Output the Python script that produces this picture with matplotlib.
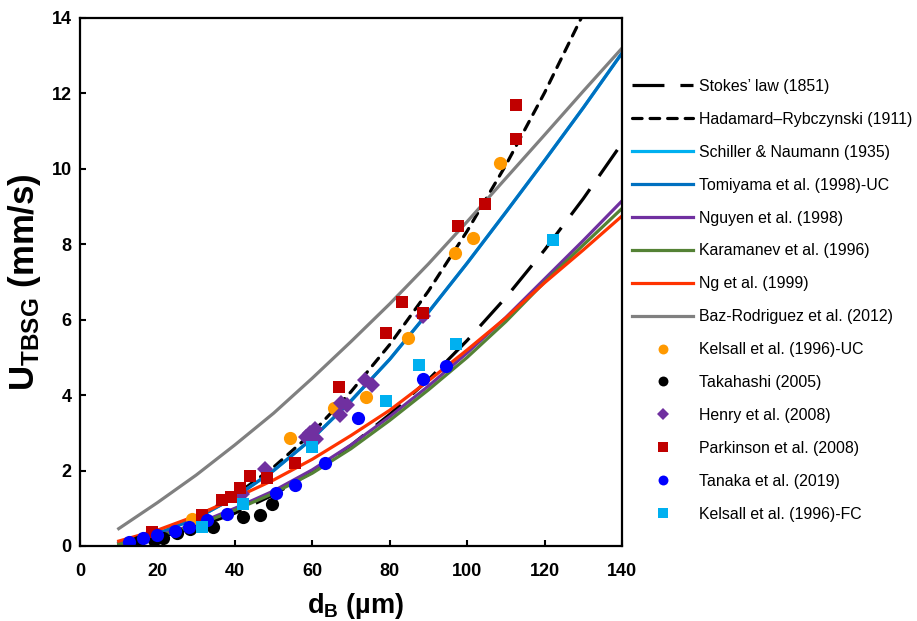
import matplotlib
matplotlib.use("Agg")
import matplotlib.pyplot as plt

plt.rcParams['font.family'] = ['Liberation Sans', 'DejaVu Sans']
plt.rcParams['mathtext.fontset'] = 'custom'
plt.rcParams['mathtext.rm'] = 'Liberation Sans:bold'
plt.rcParams['mathtext.it'] = 'Liberation Sans:bold'
plt.rcParams['mathtext.bf'] = 'Liberation Sans:bold'

# ---- model curves ----
d_line = [10, 20, 30, 40, 50, 60, 70, 80, 90, 100, 110, 120, 130, 140]
stokes = [0.055, 0.22, 0.49, 0.87, 1.36, 1.96, 2.67, 3.49, 4.41, 5.45, 6.59, 7.85, 9.21, 10.68]
hadamard = [0.08, 0.33, 0.75, 1.34, 2.09, 3.0, 4.09, 5.34, 6.76, 8.35, 10.1, 12.02, 14.11, 16.37]
schiller = [0.08, 0.33, 0.73, 1.29, 2.0, 2.85, 3.85, 4.95, 6.2, 7.5, 8.85, 10.22, 11.62, 13.07]
tomiyama = [0.08, 0.33, 0.73, 1.29, 2.0, 2.85, 3.85, 4.95, 6.2, 7.5, 8.85, 10.22, 11.62, 13.07]
nguyen = [0.06, 0.27, 0.58, 1.0, 1.46, 2.02, 2.68, 3.43, 4.24, 5.12, 6.06, 7.08, 8.1, 9.15]
karamanev = [0.05, 0.25, 0.55, 0.95, 1.4, 1.93, 2.58, 3.33, 4.14, 5.0, 5.95, 7.0, 7.98, 8.95]
ng = [0.13, 0.42, 0.8, 1.27, 1.75, 2.3, 2.93, 3.6, 4.38, 5.2, 6.05, 6.98, 7.85, 8.75]
baz = [0.46, 1.15, 1.88, 2.68, 3.52, 4.45, 5.42, 6.42, 7.48, 8.6, 9.75, 10.9, 12.06, 13.2]

# ---- experimental data ----
kelsall_uc_d = [29, 54.2, 65.7, 73.9, 84.7, 96.9, 101.4, 108.5]
kelsall_uc_u = [0.72, 2.86, 3.65, 3.96, 5.52, 7.76, 8.16, 10.15]

takahashi_d = [15, 19, 21.5, 25, 28.4, 34.4, 42.2, 46.5, 49.5]
takahashi_u = [0.10, 0.16, 0.22, 0.34, 0.44, 0.50, 0.78, 0.83, 1.11]

henry_d = [41.8, 47.8, 58.5, 59.5, 60.8, 61.0, 67.2, 67.5, 68.9, 73.6, 75.4, 88.5]
henry_u = [1.38, 2.04, 2.88, 3.0, 3.1, 2.85, 3.47, 3.8, 3.74, 4.40, 4.27, 6.1]

parkinson_d = [18.5, 31.4, 36.8, 38.9, 41.2, 43.9, 48.2, 55.5, 67, 79, 83.1, 88.7, 97.7, 104.6, 112.5, 112.5]
parkinson_u = [0.38, 0.82, 1.22, 1.31, 1.55, 1.85, 1.8, 2.19, 4.22, 5.66, 6.48, 6.19, 8.49, 9.07, 10.78, 11.69]

tanaka_d = [12.7, 16.4, 20, 24.5, 28.2, 32.7, 37.9, 50.6, 55.5, 63.3, 71.7, 88.7, 94.5]
tanaka_u = [0.11, 0.20, 0.29, 0.41, 0.50, 0.69, 0.86, 1.40, 1.62, 2.2, 3.39, 4.42, 4.76]

kelsall_fc_d = [31.4, 42, 60, 79, 87.5, 97.1, 122.3]
kelsall_fc_u = [0.51, 1.11, 2.62, 3.85, 4.8, 5.36, 8.11]

x_ticks = [0, 20, 40, 60, 80, 100, 120, 140]
y_ticks = [0, 2, 4, 6, 8, 10, 12, 14]

fig = plt.figure(figsize=(9.17, 6.21), dpi=100)
ax = fig.add_axes([80 / 917, 1 - 546 / 621, 542 / 917, 528 / 621])

lw = 2.3
ax.plot(d_line, stokes, color='black', lw=lw, ls=(0, (10, 5)), label="Stokes’ law (1851)")
ax.plot(d_line, hadamard, color='black', lw=lw, ls=(0, (3, 2.5)), dash_capstyle='round',
        label='Hadamard–Rybczynski (1911)')
ax.plot(d_line, schiller, color='#00B0F0', lw=lw, label='Schiller & Naumann (1935)')
ax.plot(d_line, tomiyama, color='#0070C0', lw=lw, label='Tomiyama et al. (1998)-UC')
ax.plot(d_line, nguyen, color='#7030A0', lw=lw, label='Nguyen et al. (1998)')
ax.plot(d_line, karamanev, color='#548235', lw=lw, label='Karamanev et al. (1996)')
ax.plot(d_line, ng, color='#FF3300', lw=lw, label='Ng et al. (1999)')
ax.plot(d_line, baz, color='#808080', lw=lw, label='Baz-Rodriguez et al. (2012)')

ax.plot(kelsall_uc_d, kelsall_uc_u, 'o', color='#FF9900', ms=9.5, mew=0, label='Kelsall et al. (1996)-UC')
ax.plot(takahashi_d, takahashi_u, 'o', color='black', ms=9.5, mew=0, label='Takahashi (2005)')
ax.plot(henry_d, henry_u, 'D', color='#7030A0', ms=8, mew=0, label='Henry et al. (2008)')
ax.plot(parkinson_d, parkinson_u, 's', color='#C00000', ms=9, mew=0, label='Parkinson et al. (2008)')
ax.plot(tanaka_d, tanaka_u, 'o', color='#0000FF', ms=9.5, mew=0, label='Tanaka et al. (2019)')
ax.plot(kelsall_fc_d, kelsall_fc_u, 's', color='#00B0F0', ms=9, mew=0, label='Kelsall et al. (1996)-FC')

ax.set_xlim(0, 140)
ax.set_ylim(0, 14)
ax.set_xticks(x_ticks)
ax.set_yticks(y_ticks)
ax.tick_params(direction='in', length=4, width=1.5, labelsize=13)
ax.tick_params(axis='x', pad=12)
ax.tick_params(axis='y', pad=6)
for lab in ax.get_xticklabels() + ax.get_yticklabels():
    lab.set_fontweight('bold')
for s in ax.spines.values():
    s.set_linewidth(1.6)

ax.set_xlabel(r'd$_{\rm B}$ (µm)', fontsize=19.5, fontweight='bold')
ax.set_ylabel(r'U$_{\rm TBSG}$ (mm/s)', fontsize=25, fontweight='bold')
ax.xaxis.set_label_coords(0.509, -0.085)
ax.yaxis.set_label_coords(-0.068, 0.5)

leg = ax.legend(loc='upper left', bbox_to_anchor=(632 / 917, 1 - 79 / 621),
                bbox_transform=fig.transFigure, frameon=False, fontsize=11.4,
                handlelength=3.86, handletextpad=0.4, labelspacing=1.13,
                numpoints=1, markerscale=0.75, borderaxespad=0, borderpad=0)

fig.savefig('out.png', dpi=100)
